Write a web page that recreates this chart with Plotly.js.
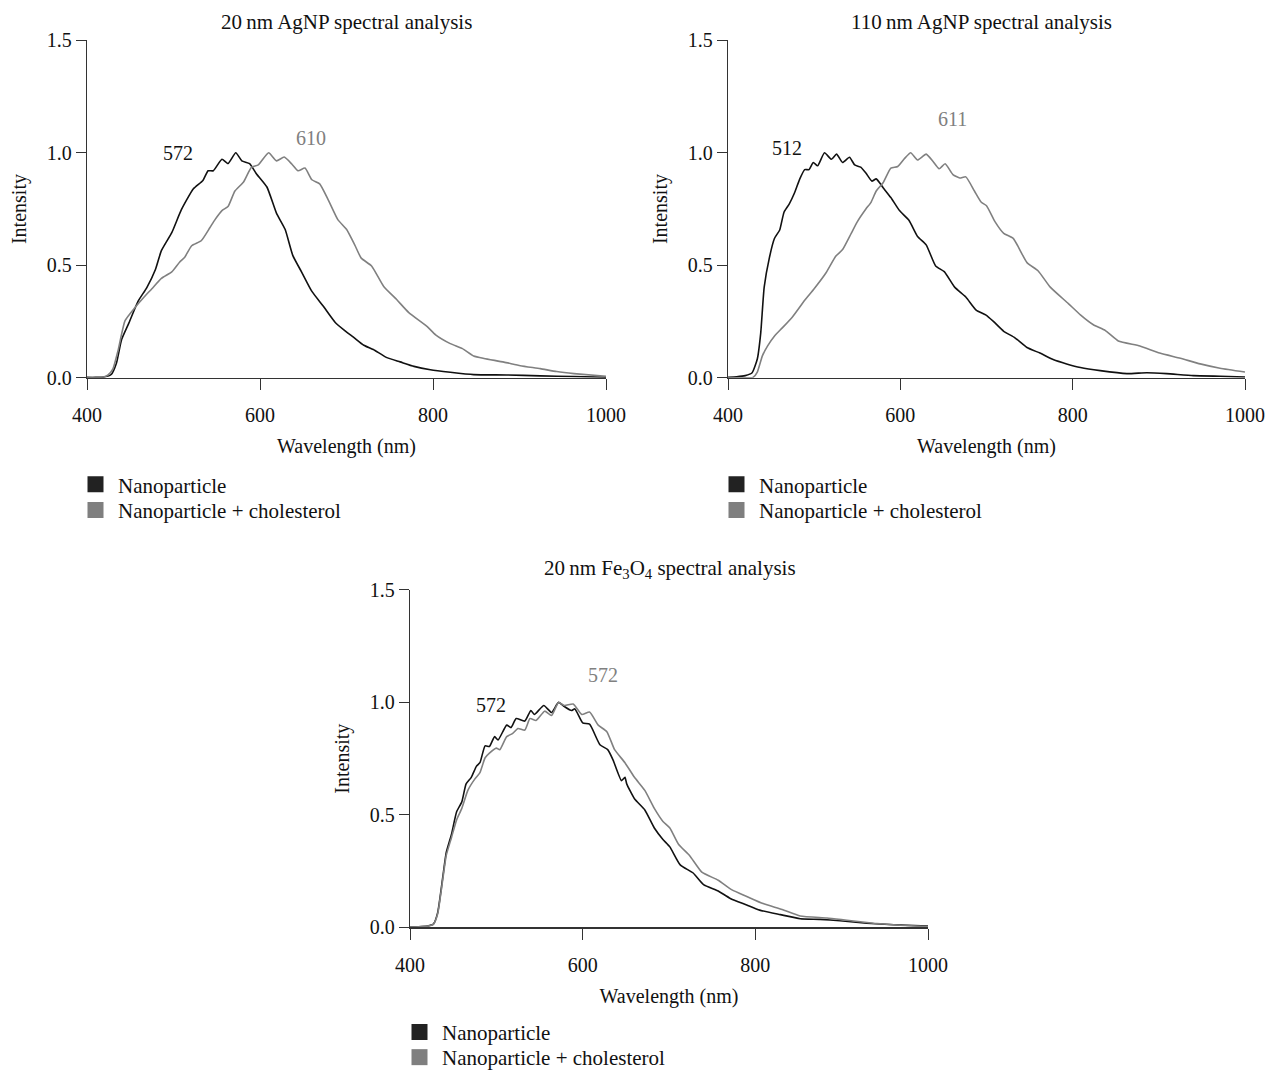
<!DOCTYPE html>
<html>
<head>
<meta charset="utf-8">
<script src="https://cdn.plot.ly/plotly-3.0.1.min.js"></script>
<style>
html,body{margin:0;padding:0;background:#fff;width:1268px;height:1078px;overflow:hidden;}
#chart{position:absolute;left:0;top:0;width:1268px;height:1078px;overflow:hidden;}
</style>
</head>
<body>
<div id="chart"></div>
<script>
// ---- Data ----
const panelTitles = ["20\u2009nm AgNP spectral analysis", "110\u2009nm AgNP spectral analysis", "20\u2009nm Fe<sub>3</sub>O<sub>4</sub> spectral analysis"];
const seriesNames = ["Nanoparticle", "Nanoparticle + cholesterol"];
const xTickVals = [400, 600, 800, 1000];
const yTickVals = [0, 0.5, 1.0, 1.5];
const yTickText = ["0.0", "0.5", "1.0", "1.5"];

// Panel 1: 20 nm AgNP
const wl1Np = [400,410,420,428,434,440,448,459,469,479,486,498,509,523,534,540,546,556,563,572,579,588,596,608,619,629,638,648,660,673,687,698,708,720,731,746,762,778,797,820,847,885,924,963,1000];
const int1Np = [0.002,0.002,0.004,0.015,0.065,0.17,0.24,0.34,0.40,0.48,0.565,0.645,0.746,0.84,0.877,0.92,0.92,0.971,0.952,1.0,0.964,0.952,0.906,0.848,0.732,0.66,0.543,0.471,0.384,0.319,0.246,0.21,0.181,0.145,0.126,0.091,0.071,0.051,0.036,0.025,0.0145,0.013,0.009,0.006,0.003];
const wl1Ch = [400,410,420,424,430,436,444,455,465,475,486,498,507,513,521,532,542,548,556,563,571,581,590,598,610,619,628,637,644,652,660,669,679,690,700,710,717,729,743,758,772,793,803,820,834,847,859,882,901,924,943,963,1000];
const int1Ch = [0.001,0.002,0.005,0.012,0.04,0.123,0.254,0.31,0.355,0.396,0.442,0.471,0.514,0.536,0.587,0.609,0.667,0.703,0.743,0.761,0.83,0.87,0.935,0.946,1.0,0.964,0.981,0.949,0.92,0.932,0.88,0.862,0.79,0.703,0.66,0.587,0.532,0.497,0.406,0.348,0.29,0.229,0.191,0.152,0.13,0.097,0.086,0.07,0.054,0.041,0.028,0.019,0.007];

// Panel 2: 110 nm AgNP
const wl2Np = [400,410,420,428,434,438,442,448,454,460,465,471,477,483,489,494,499,504,512,520,526,533,541,547,554,560,567,572,580,589,599,610,620,630,641,651,663,676,688,699,708,720,733,747,762,778,793,809,832,863,886,909,940,971,1000];
const int2Np = [0.003,0.005,0.01,0.023,0.084,0.2,0.403,0.533,0.62,0.657,0.736,0.772,0.82,0.881,0.925,0.925,0.957,0.942,1.0,0.971,0.994,0.957,0.98,0.946,0.936,0.91,0.874,0.884,0.845,0.801,0.743,0.70,0.628,0.591,0.497,0.472,0.403,0.359,0.301,0.28,0.251,0.207,0.178,0.135,0.11,0.08,0.062,0.046,0.032,0.019,0.023,0.019,0.01,0.007,0.004];
const wl2Ch = [400,420,429,434,440,446,454,463,475,489,500,514,525,533,543,550,560,566,572,580,589,597,605,612,620,630,638,645,652,661,669,676,686,694,700,710,720,731,747,760,774,795,809,824,838,853,878,901,925,948,971,1000];
const int2Ch = [0.0,0.0,0.002,0.026,0.099,0.142,0.186,0.222,0.272,0.345,0.396,0.468,0.54,0.57,0.642,0.693,0.75,0.78,0.83,0.867,0.932,0.939,0.975,1.0,0.968,0.994,0.961,0.929,0.951,0.903,0.888,0.893,0.83,0.78,0.765,0.693,0.642,0.62,0.512,0.475,0.403,0.33,0.28,0.236,0.21,0.164,0.142,0.11,0.087,0.062,0.043,0.026];

// Panel 3: 20 nm Fe3O4
const wl3Np = [400,410,420,427,432,438,442,448,454,460,465,471,477,481,487,492,498,502,512,517,523,533,540,544,555,564,572,579,587,591,600,608,620,629,635,645,649,651,660,672,683,693,701,713,728,740,757,771,790,805,829,852,875,898,929,960,1000];
const int3Np = [0.002,0.003,0.006,0.0145,0.065,0.225,0.333,0.413,0.514,0.558,0.638,0.667,0.717,0.732,0.807,0.804,0.848,0.833,0.899,0.888,0.928,0.917,0.964,0.946,0.986,0.955,1.0,0.981,0.964,0.971,0.909,0.903,0.812,0.79,0.746,0.652,0.667,0.638,0.572,0.522,0.442,0.391,0.358,0.278,0.242,0.19,0.162,0.129,0.10,0.077,0.057,0.039,0.036,0.03,0.019,0.012,0.006];
const wl3Ch = [400,410,420,427,432,438,442,448,454,460,467,475,481,487,492,500,504,512,519,525,533,539,546,556,564,572,579,589,599,608,618,628,637,649,660,672,683,693,701,711,724,738,757,773,790,809,831,852,883,906,937,968,1000];
const int3Ch = [0.002,0.003,0.006,0.014,0.06,0.215,0.32,0.399,0.478,0.529,0.609,0.659,0.688,0.754,0.775,0.797,0.79,0.848,0.862,0.884,0.877,0.928,0.92,0.961,0.942,1.0,0.986,0.993,0.946,0.957,0.899,0.87,0.79,0.732,0.667,0.609,0.529,0.471,0.442,0.37,0.319,0.246,0.21,0.167,0.138,0.106,0.08,0.051,0.042,0.032,0.019,0.01,0.004];

// Peak labels: [text, x, y, series index]
const peakLabels1 = [["572", 505, 1.0, 0], ["610", 659, 1.064, 1]];
const peakLabels2 = [["512", 468, 1.02, 0], ["611", 661, 1.151, 1]];
const peakLabels3 = [["572", 494, 0.99, 0], ["572", 623, 1.12, 1]];

// ---- Styling ----
const FONT = "'Liberation Serif', 'DejaVu Serif', serif";
const lineColors = ["#111111", "#808080"];
const legendColors = ["#222222", "#7f7f7f"];

const panels = [
  {wl: [wl1Np, wl1Ch], it: [int1Np, int1Ch], labels: peakLabels1},
  {wl: [wl2Np, wl2Ch], it: [int2Np, int2Ch], labels: peakLabels2},
  {wl: [wl3Np, wl3Ch], it: [int3Np, int3Ch], labels: peakLabels3}
];
// legend anchor (left, top) in pixels for each panel
const legendPos = [[73, 473], [714, 473], [397, 1031]];

const traces = [];
const annotations = [];
const legends = {};
panels.forEach((p, i) => {
  const ax = i === 0 ? "" : String(i + 1);
  for (let s = 0; s < 2; s++) {
    traces.push({
      x: p.wl[s], y: p.it[s], type: "scatter", mode: "lines",
      line: {color: lineColors[s], width: 1.6, shape: "spline", smoothing: 0.5},
      xaxis: "x" + ax, yaxis: "y" + ax, showlegend: false, hoverinfo: "skip"
    });
  }
  for (let s = 0; s < 2; s++) {
    const idx = i * 2 + s + 1;
    const leg = idx === 1 ? "legend" : "legend" + idx;
    legends[leg] = {
      x: legendPos[i][0] / 1268, y: 1 - (legendPos[i][1] + s * 26) / 1078,
      xanchor: "left", yanchor: "top", itemwidth: 35,
      font: {family: FONT, size: 21, color: "#111"}, bgcolor: "rgba(0,0,0,0)",
      itemclick: false, itemdoubleclick: false
    };
    traces.push({
      x: [null], y: [null], type: "scatter", mode: "markers", name: seriesNames[s],
      marker: {symbol: "square", size: 16, color: legendColors[s]},
      xaxis: "x" + ax, yaxis: "y" + ax, legend: leg, showlegend: true
    });
  }
  p.labels.forEach(l => {
    annotations.push({
      text: l[0], x: l[1], y: l[2], xref: "x" + ax, yref: "y" + ax,
      showarrow: false, font: {family: FONT, size: 20, color: lineColors[l[3]]}
    });
  });
});

const titlePos = [[346, 22], [981, 22], [670, 580]];
titlePos.forEach((tp, i) => {
  annotations.push({
    text: panelTitles[i], x: tp[0] / 1268, y: 1 - tp[1] / 1078, xref: "paper", yref: "paper",
    xanchor: "center", yanchor: "middle", showarrow: false,
    font: {family: FONT, size: 21, color: "#111"}
  });
});

function xAxis(d0, d1, anchor) {
  return {
    domain: [d0 / 1268, d1 / 1268], range: [400, 1000], anchor: anchor,
    tickvals: xTickVals, ticks: "outside", ticklen: 11, tickwidth: 1, tickcolor: "#333",
    ticklabelstandoff: 8,
    showline: true, linecolor: "#333", linewidth: 1.2, showgrid: false, zeroline: false,
    tickfont: {family: FONT, size: 20, color: "#111"},
    title: {text: "Wavelength (nm)", font: {family: FONT, size: 20, color: "#111"}, standoff: 14},
    fixedrange: true
  };
}
function yAxis(top, bot, anchor) {
  return {
    domain: [1 - bot / 1078, 1 - top / 1078], range: [0, 1.5], anchor: anchor,
    tickvals: yTickVals, ticktext: yTickText, ticks: "outside", ticklen: 10, tickwidth: 1, tickcolor: "#333",
    showline: true, linecolor: "#333", linewidth: 1.2, showgrid: false, zeroline: false,
    tickfont: {family: FONT, size: 20, color: "#111"},
    title: {text: "Intensity", font: {family: FONT, size: 20, color: "#111"}, standoff: 14},
    fixedrange: true
  };
}

const layout = Object.assign({
  width: 1268, height: 1078, margin: {l: 0, r: 0, t: 0, b: 0},
  paper_bgcolor: "#fff", plot_bgcolor: "#fff",
  font: {family: FONT, size: 20, color: "#111"},
  xaxis: xAxis(87, 606, "y"), yaxis: yAxis(41, 385, "x"),
  xaxis2: xAxis(728, 1245, "y2"), yaxis2: yAxis(41, 385, "x2"),
  xaxis3: xAxis(410, 928, "y3"), yaxis3: yAxis(601, 945, "x3"),
  annotations: annotations
}, legends);

Plotly.newPlot("chart", traces, layout, {staticPlot: true, displayModeBar: false});
</script>
</body>
</html>
